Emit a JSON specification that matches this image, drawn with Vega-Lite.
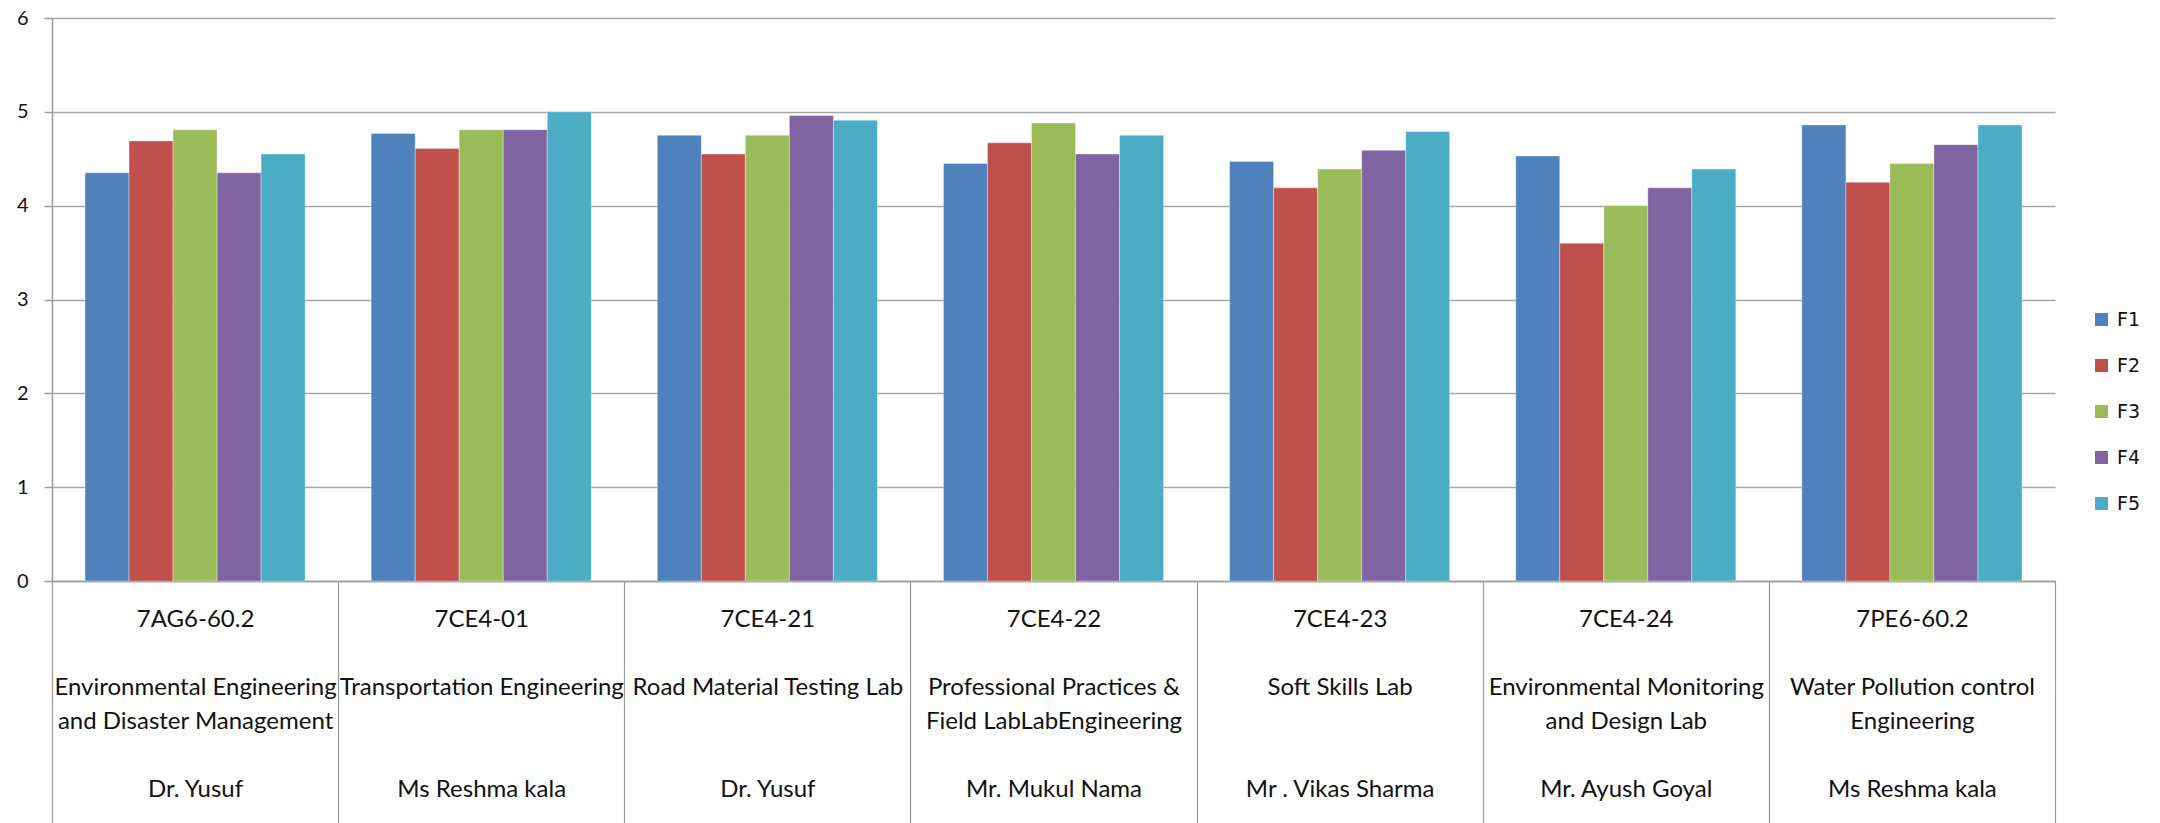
{
  "$schema": "https://vega.github.io/schema/vega-lite/v6.json",
  "width": 2003,
  "height": 563,
  "autosize": {"type": "none"},
  "padding": {"left": 52, "top": 18, "right": 105, "bottom": 242},
  "background": "#ffffff",
  "data": {
    "values": [
      {"cat": "7AG6-60.2|Environmental Engineering|and Disaster Management|Dr. Yusuf", "series": "F1", "value": 4.35},
      {"cat": "7AG6-60.2|Environmental Engineering|and Disaster Management|Dr. Yusuf", "series": "F2", "value": 4.69},
      {"cat": "7AG6-60.2|Environmental Engineering|and Disaster Management|Dr. Yusuf", "series": "F3", "value": 4.81},
      {"cat": "7AG6-60.2|Environmental Engineering|and Disaster Management|Dr. Yusuf", "series": "F4", "value": 4.35},
      {"cat": "7AG6-60.2|Environmental Engineering|and Disaster Management|Dr. Yusuf", "series": "F5", "value": 4.55},
      {"cat": "7CE4-01|Transportation Engineering|Ms Reshma kala", "series": "F1", "value": 4.77},
      {"cat": "7CE4-01|Transportation Engineering|Ms Reshma kala", "series": "F2", "value": 4.61},
      {"cat": "7CE4-01|Transportation Engineering|Ms Reshma kala", "series": "F3", "value": 4.81},
      {"cat": "7CE4-01|Transportation Engineering|Ms Reshma kala", "series": "F4", "value": 4.81},
      {"cat": "7CE4-01|Transportation Engineering|Ms Reshma kala", "series": "F5", "value": 5.0},
      {"cat": "7CE4-21|Road Material Testing Lab|Dr. Yusuf", "series": "F1", "value": 4.75},
      {"cat": "7CE4-21|Road Material Testing Lab|Dr. Yusuf", "series": "F2", "value": 4.55},
      {"cat": "7CE4-21|Road Material Testing Lab|Dr. Yusuf", "series": "F3", "value": 4.75},
      {"cat": "7CE4-21|Road Material Testing Lab|Dr. Yusuf", "series": "F4", "value": 4.96},
      {"cat": "7CE4-21|Road Material Testing Lab|Dr. Yusuf", "series": "F5", "value": 4.91},
      {"cat": "7CE4-22|Professional Practices &|Field LabLabEngineering|Mr. Mukul Nama", "series": "F1", "value": 4.45},
      {"cat": "7CE4-22|Professional Practices &|Field LabLabEngineering|Mr. Mukul Nama", "series": "F2", "value": 4.67},
      {"cat": "7CE4-22|Professional Practices &|Field LabLabEngineering|Mr. Mukul Nama", "series": "F3", "value": 4.88},
      {"cat": "7CE4-22|Professional Practices &|Field LabLabEngineering|Mr. Mukul Nama", "series": "F4", "value": 4.55},
      {"cat": "7CE4-22|Professional Practices &|Field LabLabEngineering|Mr. Mukul Nama", "series": "F5", "value": 4.75},
      {"cat": "7CE4-23|Soft Skills Lab|Mr . Vikas  Sharma", "series": "F1", "value": 4.47},
      {"cat": "7CE4-23|Soft Skills Lab|Mr . Vikas  Sharma", "series": "F2", "value": 4.19},
      {"cat": "7CE4-23|Soft Skills Lab|Mr . Vikas  Sharma", "series": "F3", "value": 4.39},
      {"cat": "7CE4-23|Soft Skills Lab|Mr . Vikas  Sharma", "series": "F4", "value": 4.59},
      {"cat": "7CE4-23|Soft Skills Lab|Mr . Vikas  Sharma", "series": "F5", "value": 4.79},
      {"cat": "7CE4-24|Environmental Monitoring|and Design Lab|Mr. Ayush Goyal", "series": "F1", "value": 4.53},
      {"cat": "7CE4-24|Environmental Monitoring|and Design Lab|Mr. Ayush Goyal", "series": "F2", "value": 3.6},
      {"cat": "7CE4-24|Environmental Monitoring|and Design Lab|Mr. Ayush Goyal", "series": "F3", "value": 4.0},
      {"cat": "7CE4-24|Environmental Monitoring|and Design Lab|Mr. Ayush Goyal", "series": "F4", "value": 4.19},
      {"cat": "7CE4-24|Environmental Monitoring|and Design Lab|Mr. Ayush Goyal", "series": "F5", "value": 4.39},
      {"cat": "7PE6-60.2|Water Pollution control|Engineering|Ms Reshma kala", "series": "F1", "value": 4.86},
      {"cat": "7PE6-60.2|Water Pollution control|Engineering|Ms Reshma kala", "series": "F2", "value": 4.25},
      {"cat": "7PE6-60.2|Water Pollution control|Engineering|Ms Reshma kala", "series": "F3", "value": 4.45},
      {"cat": "7PE6-60.2|Water Pollution control|Engineering|Ms Reshma kala", "series": "F4", "value": 4.65},
      {"cat": "7PE6-60.2|Water Pollution control|Engineering|Ms Reshma kala", "series": "F5", "value": 4.86}
    ]
  },
  "mark": {"type": "bar", "stroke": "#ffffff", "strokeWidth": 0.6, "strokeOpacity": 0.6},
  "encoding": {
    "x": {
      "field": "cat",
      "type": "nominal",
      "sort": null,
      "scale": {"paddingInner": 0, "paddingOuter": 0},
      "axis": {
        "title": null,
        "labelAngle": 0,
        "tickBand": "extent",
        "tickSize": 242,
        "tickColor": "#9a9a9a",
        "tickWidth": 1.2,
        "domainColor": "#9a9a9a",
        "domainWidth": 1.5,
        "labelPadding": -216,
        "labelBaseline": "top",
        "labelFont": "Lato",
        "labelFontSize": 24,
        "labelColor": "#111111",
        "labelLineHeight": 34,
        "labelLimit": 400,
        "labelOverlap": false,
        "labelExpr": "length(split(datum.label,'|'))==4 ? [split(datum.label,'|')[0], '\u200b', split(datum.label,'|')[1], split(datum.label,'|')[2], '\u200b', split(datum.label,'|')[3]] : [split(datum.label,'|')[0], '\u200b', split(datum.label,'|')[1], '\u200b', '\u200b', split(datum.label,'|')[2]]"
      }
    },
    "xOffset": {"field": "series", "type": "nominal", "scale": {"paddingInner": 0, "paddingOuter": 0.75}},
    "y": {
      "field": "value",
      "type": "quantitative",
      "scale": {"domain": [0, 6], "nice": false},
      "axis": {
        "title": null,
        "values": [0, 1, 2, 3, 4, 5, 6],
        "grid": true,
        "gridColor": "#a6a6a6",
        "gridWidth": 1.5,
        "domainColor": "#9a9a9a",
        "domainWidth": 1.5,
        "tickColor": "#9a9a9a",
        "tickSize": 8,
        "tickWidth": 1.5,
        "labelPadding": 16,
        "labelFont": "Lato",
        "labelFontSize": 20,
        "labelColor": "#111111"
      }
    },
    "color": {
      "field": "series",
      "type": "nominal",
      "scale": {"domain": ["F1", "F2", "F3", "F4", "F5"], "range": ["#4f81bd", "#c0504d", "#9bbb59", "#8064a2", "#4bacc6"]},
      "legend": {
        "title": null,
        "orient": "none",
        "legendX": 2040,
        "legendY": 292,
        "padding": 0,
        "symbolType": "square",
        "symbolSize": 169,
        "symbolStrokeWidth": 0,
        "labelFont": "DejaVu Sans",
        "labelFontSize": 19,
        "labelColor": "#111111",
        "labelOffset": 6,
        "rowPadding": 26
      }
    }
  },
  "config": {"view": {"stroke": null}}
}
